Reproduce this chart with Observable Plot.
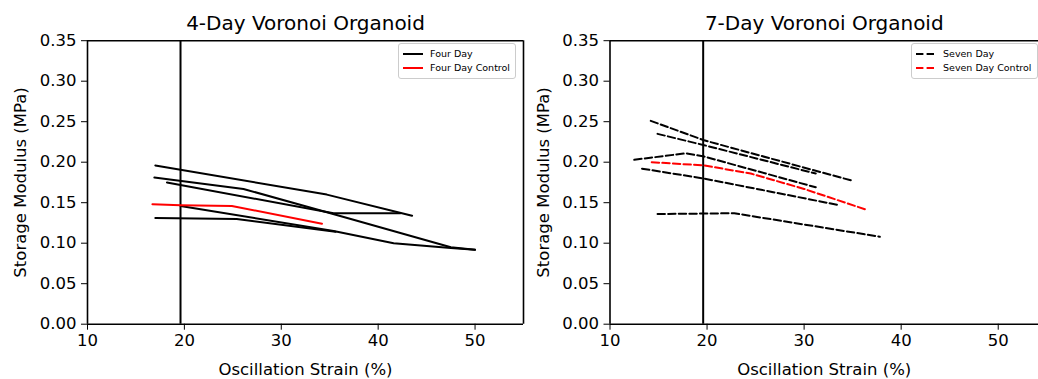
<!DOCTYPE html>
<html><head><meta charset="utf-8">
<script src="https://cdn.jsdelivr.net/npm/d3@7"></script>
<script src="https://cdn.jsdelivr.net/npm/@observablehq/plot@0.6"></script>
<style>
body{margin:0;background:#fff;}
#wrap{position:relative;width:1038px;height:379px;overflow:hidden;font-family:"DejaVu Sans",sans-serif;background:#fff;}
.panel{position:absolute;top:0;}
.legend{position:absolute;border:1px solid #cccccc;border-radius:3px;background:rgba(255,255,255,0.85);font-size:9.5px;color:#000;padding:3px 5px 3px 4px;line-height:14px;white-space:nowrap;}
.legend .row{display:flex;align-items:center;}
.legend svg{margin-right:7px;}
</style></head><body><div id="wrap"></div>
<script>
const strainTicks = [10, 20, 30, 40, 50];
const modulusTicks = [0, 0.05, 0.10, 0.15, 0.20, 0.25, 0.30, 0.35];
const markerStrain = 19.6;
const panelTitles = ["4-Day Voronoi Organoid", "7-Day Voronoi Organoid"];
const xLabel = "Oscillation Strain (%)";
const yLabel = "Storage Modulus (MPa)";
const fourDayLabels = ["Four Day", "Four Day Control"];
const sevenDayLabels = ["Seven Day", "Seven Day Control"];

// 4-day samples (black solid)
const fourDayStrain = [
  [17.0, 34.7, 43.5],
  [16.9, 26.1, 34.8, 47.5, 50.0],
  [18.2, 35.4, 42.3],
  [17.0, 25.4, 35.6],
  [19.6, 35.4, 41.6, 47.5, 50.0]
];
const fourDayModulus = [
  [0.196, 0.160, 0.134],
  [0.181, 0.167, 0.138, 0.095, 0.092],
  [0.175, 0.137, 0.137],
  [0.131, 0.130, 0.114],
  [0.146, 0.115, 0.100, 0.094, 0.092]
];
const fourDayControlStrain = [16.7, 19.6, 24.9, 34.2];
const fourDayControlModulus = [0.148, 0.147, 0.146, 0.124];

// 7-day samples (black dashed)
const sevenDayStrain = [
  [14.2, 19.7, 35.0],
  [14.9, 19.7, 31.2],
  [12.5, 17.8, 19.7, 31.2],
  [13.3, 19.6, 33.6],
  [14.9, 22.8, 37.8]
];
const sevenDayModulus = [
  [0.251, 0.227, 0.177],
  [0.235, 0.221, 0.186],
  [0.203, 0.211, 0.207, 0.169],
  [0.192, 0.180, 0.147],
  [0.136, 0.137, 0.108]
];
const sevenDayControlStrain = [14.3, 19.7, 24.5, 30.0, 36.5];
const sevenDayControlModulus = [0.200, 0.196, 0.186, 0.167, 0.141];

function toRows(strains, moduli) {
  const rows = [];
  strains.forEach((s, i) => s.forEach((x, j) => rows.push({series: i, strain: x, modulus: moduli[i][j]})));
  return rows;
}

function panel({title, strains, moduli, cStrain, cModulus, dash, width, marginLeft, marginRight, xMax, rightBorder}) {
  const rows = toRows(strains, moduli);
  const ctrl = toRows([cStrain], [cModulus]);
  const marks = [
    Plot.axisX({ticks: strainTicks, tickSize: 6, tickPadding: 4, label: xLabel, labelAnchor: "center", labelArrow: "none", labelOffset: 51}),
    Plot.axisY({ticks: modulusTicks, tickFormat: d3.format(".2f"), tickSize: 6, tickPadding: 5, label: yLabel, labelAnchor: "center", labelArrow: "none", labelOffset: 73}),
    Plot.ruleX([markerStrain], {stroke: "#000", strokeWidth: 2}),
    Plot.line(rows, {x: "strain", y: "modulus", z: "series", stroke: "#000", strokeWidth: 2, strokeDasharray: dash}),
    Plot.line(ctrl, {x: "strain", y: "modulus", stroke: "#ff0000", strokeWidth: 2, strokeDasharray: dash}),
    Plot.ruleY([0.35], {stroke: "#000", strokeWidth: 1.6}),
    Plot.ruleY([0], {stroke: "#000", strokeWidth: 1.6}),
    Plot.ruleX([10], {stroke: "#000", strokeWidth: 1.6}),
    Plot.text([title], {text: d => d, frameAnchor: "top", dy: -11, lineAnchor: "bottom", fontSize: 20})
  ];
  if (rightBorder) marks.push(Plot.ruleX([xMax], {stroke: "#000", strokeWidth: 1.6}));
  return Plot.plot({
    width, height: 379, marginLeft, marginRight, marginTop: 40.2, marginBottom: 55.3,
    x: {domain: [10, xMax]},
    y: {domain: [0, 0.35]},
    style: {fontFamily: "DejaVu Sans", fontSize: "16.5px", color: "#000", background: "transparent", overflow: "visible"},
    marks
  });
}

function legend(labels, dash, left, top) {
  const div = document.createElement("div");
  div.className = "legend";
  div.style.left = left + "px";
  div.style.top = top + "px";
  const colors = ["#000", "#ff0000"];
  labels.forEach((lab, i) => {
    const row = document.createElement("div");
    row.className = "row";
    row.innerHTML = `<svg width="20" height="6"><line x1="0" x2="20" y1="3" y2="3" stroke="${colors[i]}" stroke-width="2" ${dash ? `stroke-dasharray="${dash}"` : ""}/></svg><span>${lab}</span>`;
    div.appendChild(row);
  });
  return div;
}

const wrap = document.getElementById("wrap");
const left = panel({title: panelTitles[0], strains: fourDayStrain, moduli: fourDayModulus, cStrain: fourDayControlStrain, cModulus: fourDayControlModulus, dash: null, width: 540, marginLeft: 87, marginRight: 17, xMax: 55, rightBorder: true});
left.classList.add("panel"); left.style.left = "0px";
const right = panel({title: panelTitles[1], strains: sevenDayStrain, moduli: sevenDayModulus, cStrain: sevenDayControlStrain, cModulus: sevenDayControlModulus, dash: "7.4,3.2", width: 518, marginLeft: 89.5, marginRight: 0, xMax: 54.15, rightBorder: false});
right.classList.add("panel"); right.style.left = "520px";
wrap.appendChild(left);
wrap.appendChild(right);
wrap.appendChild(legend(fourDayLabels, null, 398, 43));
wrap.appendChild(legend(sevenDayLabels, "7.4,3.2", 911, 43));
</script></body></html>
